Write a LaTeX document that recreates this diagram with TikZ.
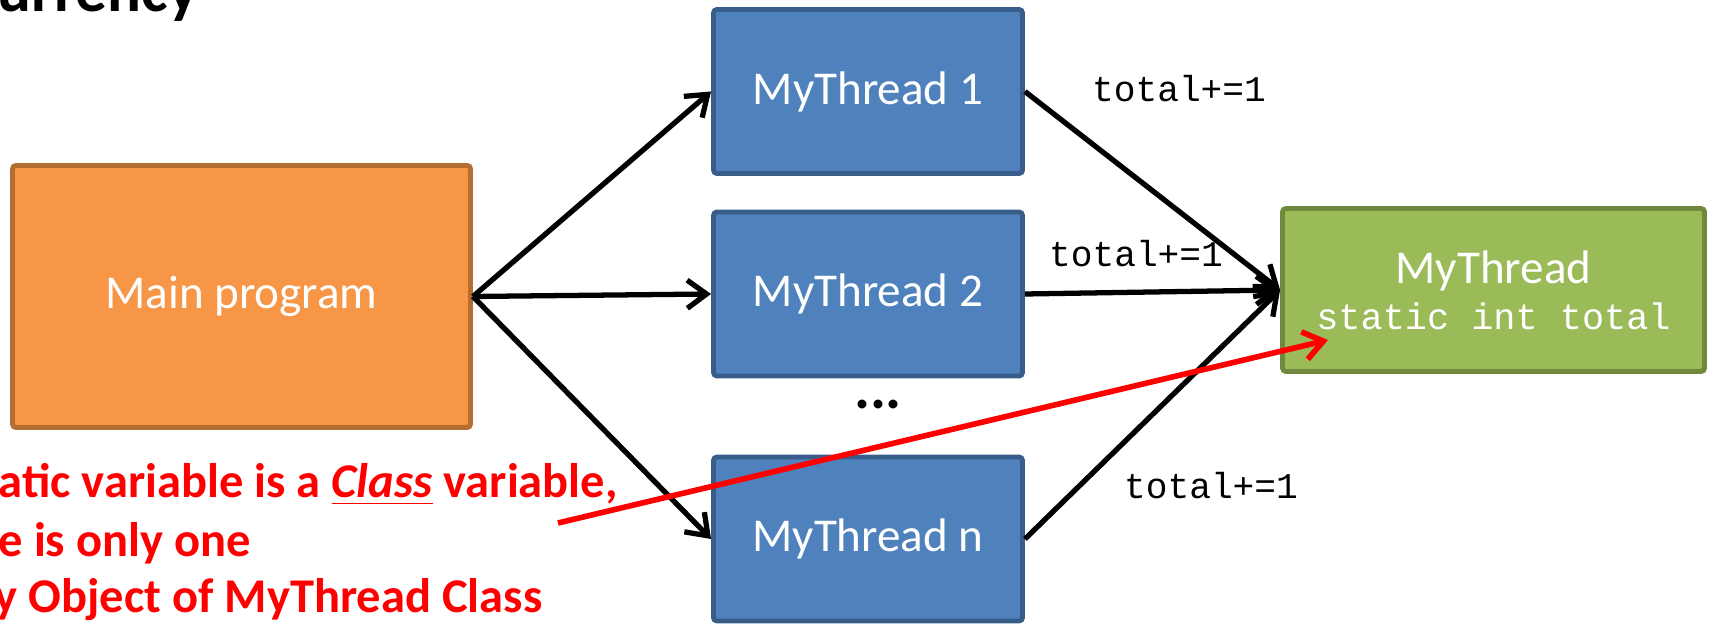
\documentclass[tikz,border=0pt]{standalone}
\usepackage{fontspec}
\setmainfont{Carlito}
\setmonofont{Liberation Mono}
\usetikzlibrary{arrows.meta}
\definecolor{mainorange}{HTML}{F79646}
\definecolor{mainline}{HTML}{B66D31}
\definecolor{threadblue}{HTML}{4F81BD}
\definecolor{threadline}{HTML}{385D8A}
\definecolor{classgreen}{HTML}{9BBB59}
\definecolor{classline}{HTML}{71893F}

\begin{document}
\begin{tikzpicture}[>={Straight Barb[length=5.5pt,width=8pt]},
  font=\fontsize{13.4}{16}\selectfont,
  box/.style={draw, line width=1.4pt, rounded corners=1pt, align=center, inner sep=0pt, text=white},
  thread/.style={box, fill=threadblue, draw=threadline, minimum width=3.09cm, minimum height=1.64cm},
  code/.style={anchor=base, inner sep=0pt, font=\ttfamily\fontsize{10.3}{12}\selectfont},
  link/.style={->, line width=1.5pt},
  note/.style={anchor=base west, inner sep=0pt, text=red, font=\bfseries\fontsize{13.8}{16}\selectfont}]
  \useasboundingbox (0,0) rectangle (17.09,6.24);
  \node[anchor=base west, inner sep=0pt, font=\bfseries\fontsize{18}{20}\selectfont] (title) at (-0.03,6.12) {urrency};
  \node[box, fill=mainorange, draw=mainline, minimum width=4.58cm, minimum height=2.62cm] (main) at (2.415,3.275) {Main program};
  \node[thread] (t1) at (8.68,5.325) {MyThread 1};
  \node[thread] (t2) at (8.68,3.30) {MyThread 2};
  \node[thread] (tn) at (8.68,0.85) {MyThread n};
  \node[font=\bfseries\fontsize{17}{18}\selectfont] (dots) at (8.78,2.19) {...};
  \node[box, fill=classgreen, draw=classline, minimum width=4.22cm, minimum height=1.63cm] (cls) at (14.935,3.34)
    {MyThread\\[-3pt]{\ttfamily\fontsize{10.5}{12}\selectfont static int total}};
  \node[code] (inc1) at (11.79,5.22) {total+=1};
  \node[code] (inc2) at (11.36,3.57) {total+=1};
  \node[code] (incn) at (12.11,1.25) {total+=1};
  \draw[link] (main.east) -- (t1.west);
  \draw[link] (main.east) -- (t2.west);
  \draw[link] (main.east) -- (tn.west);
  \draw[link] (t1.east) -- (cls.west);
  \draw[link] (t2.east) -- (cls.west);
  \draw[link] (tn.east) -- (cls.west);
  \node[note] (note1) at (-0.02,1.26) {atic variable is a \underline{\textit{Class}} variable,};
  \node[note] (note2) at (-0.02,0.67) {e is only one};
  \node[note] (note3) at (-0.06,0.11) {y Object of MyThread Class};
  \coordinate (from) at (5.58,1.01);
  \coordinate (to) at (13.28,2.84);
  \draw[link, red, line width=1.6pt] (from) -- (to);
\end{tikzpicture}
\end{document}
